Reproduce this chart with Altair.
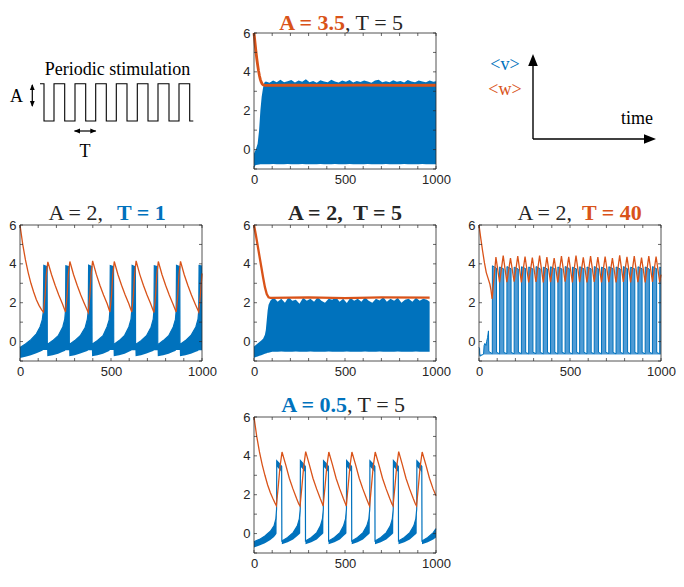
import altair as alt
import pandas as pd

BLUE = "#0072BD"
ORANGE = "#D95319"
LIGHT_BLUE = "#4F9BD5"
INK = "#262626"
SERIF = "Liberation Serif"
SANS = "Liberation Sans"

W, H = 182, 136
COL_GAP = 43
SCHEM_W = 191
LEG_W = 182
TICK = 3

X_TICKS = [0, 100, 200, 300, 400, 500, 600, 700, 800, 900, 1000]
Y_TICKS = [-1, 0, 1, 2, 3, 4, 5, 6]
X_LABELS = [0, 500, 1000]
Y_LABELS = [0, 2, 4, 6]

# ---------------- A = 3.5, T = 5 (blue envelope + orange) ----------------
TOP_T = [0, 5, 10, 20, 28, 35, 42, 50, 57] + list(range(65, 1000, 20)) + [1000]
TOP_LO = [-0.95, -0.85, -0.8, -0.78, -0.77, -0.76, -0.76, -0.75, -0.75,
          -0.75, -0.76, -0.74, -0.75, -0.76, -0.75, -0.74, -0.76, -0.75, -0.75,
          -0.74, -0.76, -0.75, -0.75, -0.76, -0.74, -0.75, -0.76, -0.75, -0.74,
          -0.75, -0.76, -0.75, -0.74, -0.75, -0.76, -0.75, -0.75, -0.74, -0.76,
          -0.75, -0.75, -0.76, -0.74, -0.75, -0.75, -0.76, -0.75, -0.74, -0.75,
          -0.76, -0.75, -0.75, -0.74, -0.76, -0.75, -0.75, -0.75]
TOP_HI = [-0.2, -0.1, 0.0, 0.3, 1.0, 2.0, 2.7, 3.2, 3.45,
          3.50, 3.44, 3.56, 3.47, 3.60, 3.46, 3.52, 3.58, 3.45, 3.55,
          3.49, 3.62, 3.47, 3.53, 3.44, 3.57, 3.50, 3.46, 3.59, 3.51,
          3.45, 3.55, 3.49, 3.58, 3.45, 3.53, 3.48, 3.56, 3.50, 3.44,
          3.55, 3.60, 3.47, 3.52, 3.46, 3.57, 3.49, 3.53, 3.45, 3.58,
          3.50, 3.47, 3.55, 3.51, 3.46, 3.56, 3.49, 3.52]
TOP_WT = [0, 5, 10, 15, 20, 25, 30, 35, 40, 45, 50, 60, 200, 400, 600, 800, 1000]
TOP_W = [6.0, 5.55, 5.1, 4.7, 4.35, 4.05, 3.8, 3.6, 3.47, 3.38, 3.33, 3.3, 3.31, 3.3, 3.32, 3.3, 3.31]

# ---------------- A = 2, T = 5 ----------------
CEN_T = [0, 10, 20, 30, 40, 50, 60, 65, 70, 75, 80, 90, 100] + list(range(110, 951, 20)) + [965]
CEN_LO = [-0.85, -0.8, -0.77, -0.73, -0.7, -0.67, -0.63, -0.61, -0.6, -0.58, -0.57, -0.55, -0.53,
          -0.52, -0.53, -0.51, -0.52, -0.53, -0.52, -0.51, -0.52, -0.53, -0.52,
          -0.51, -0.52, -0.52, -0.53, -0.52, -0.51, -0.52, -0.53, -0.52, -0.52,
          -0.51, -0.52, -0.53, -0.52, -0.52, -0.51, -0.52, -0.53, -0.52, -0.51,
          -0.52, -0.52, -0.53, -0.52, -0.51, -0.52, -0.52, -0.53, -0.52, -0.51,
          -0.52, -0.53, -0.52, -0.52]
CEN_HI = [-0.25, -0.18, -0.1, -0.02, 0.05, 0.15, 0.35, 0.6, 1.1, 1.6, 1.9, 2.1, 2.2,
          2.25, 2.05, 2.20, 2.00, 2.30, 2.10, 2.15, 1.95, 2.25, 2.10,
          2.20, 2.05, 2.30, 2.10, 2.00, 2.20, 2.15, 2.30, 2.05, 2.20,
          1.98, 2.25, 2.10, 2.20, 2.05, 2.28, 2.10, 2.00, 2.20, 2.12,
          2.30, 2.05, 2.20, 2.10, 2.25, 2.00, 2.15, 2.20, 2.05, 2.25,
          2.10, 2.20, 2.15, 2.05]
CEN_WT = [0, 10, 20, 30, 40, 50, 60, 70, 80, 90, 300, 500, 700, 965]
CEN_W = [6.0, 5.5, 4.95, 4.4, 3.85, 3.3, 2.8, 2.45, 2.28, 2.25, 2.27, 2.24, 2.27, 2.26]

# ---------------- A = 2, T = 1 ----------------
L_T = [0, 30, 60, 90, 110, 122, 128,
       131, 149, 150, 180, 210, 235, 246, 250,
       252, 270, 271, 301, 331, 358, 370, 375,
       377, 395, 396, 426, 456, 478, 490, 494,
       496, 514, 515, 545, 575, 598, 610, 614,
       616, 634, 635, 665, 695, 720, 732, 736,
       738, 756, 757, 787, 817, 842, 854, 858,
       860, 878, 879, 909, 939, 966, 978, 982,
       984, 1000]
L_LO = [-0.85, -0.78, -0.7, -0.6, -0.52, -0.47, -0.44,
        -0.44, -0.44, -0.75, -0.7, -0.63, -0.53, -0.48, -0.45,
        -0.45, -0.45, -0.76, -0.7, -0.62, -0.53, -0.48, -0.45,
        -0.45, -0.45, -0.75, -0.7, -0.63, -0.54, -0.48, -0.44,
        -0.44, -0.44, -0.76, -0.71, -0.63, -0.53, -0.47, -0.45,
        -0.45, -0.45, -0.75, -0.7, -0.62, -0.53, -0.48, -0.45,
        -0.45, -0.45, -0.75, -0.7, -0.63, -0.53, -0.48, -0.44,
        -0.44, -0.44, -0.76, -0.7, -0.63, -0.53, -0.48, -0.45,
        -0.45, -0.45]
L_HI = [-0.3, -0.12, 0.1, 0.4, 0.75, 1.1, 1.55,
        3.92, 3.85, -0.15, 0.05, 0.3, 0.75, 1.15, 1.6,
        3.9, 3.85, -0.15, 0.05, 0.3, 0.72, 1.15, 1.58,
        3.93, 3.86, -0.14, 0.06, 0.3, 0.75, 1.12, 1.6,
        3.91, 3.85, -0.15, 0.05, 0.32, 0.75, 1.15, 1.62,
        3.92, 3.84, -0.15, 0.04, 0.3, 0.74, 1.15, 1.6,
        3.9, 3.85, -0.16, 0.05, 0.3, 0.75, 1.14, 1.58,
        3.92, 3.85, -0.15, 0.05, 0.31, 0.75, 1.15, 1.6,
        3.92, 3.88]
LW_T = [0, 15, 30, 45, 60, 75, 90, 105, 120, 129,
        138, 144, 153, 173, 193, 213, 233, 250,
        259, 265, 274, 294, 314, 334, 354, 375,
        384, 390, 399, 419, 439, 459, 479, 494,
        503, 509, 518, 538, 558, 578, 598, 614,
        623, 629, 638, 658, 678, 698, 718, 736,
        745, 751, 760, 780, 800, 820, 840, 858,
        867, 873, 882, 902, 922, 942, 962, 982,
        991, 1000]
LW_W = [6.0, 5.0, 4.2, 3.55, 3.0, 2.55, 2.15, 1.85, 1.62, 1.52,
        2.4, 3.4, 4.1, 3.45, 2.9, 2.4, 1.95, 1.52,
        2.4, 3.4, 4.12, 3.45, 2.9, 2.4, 1.95, 1.5,
        2.4, 3.4, 4.15, 3.47, 2.9, 2.4, 1.95, 1.52,
        2.4, 3.4, 4.12, 3.45, 2.9, 2.4, 1.95, 1.52,
        2.4, 3.4, 4.15, 3.46, 2.9, 2.4, 1.95, 1.5,
        2.4, 3.4, 4.12, 3.45, 2.9, 2.4, 1.95, 1.52,
        2.4, 3.4, 4.13, 3.45, 2.9, 2.4, 1.95, 1.52,
        2.4, 3.5]

# ---------------- A = 2, T = 40 ----------------
R_T = [0, 3, 5, 15, 25, 28, 32, 38, 42, 47, 52, 54, 60, 73,
       73.5, 96, 96.5, 113, 113.5, 136, 136.5, 153, 153.5, 176, 176.5, 193,
       193.5, 216, 216.5, 233, 233.5, 256, 256.5, 273, 273.5, 296, 296.5, 313,
       313.5, 336, 336.5, 353, 353.5, 376, 376.5, 393, 393.5, 416, 416.5, 433,
       433.5, 456, 456.5, 473, 473.5, 496, 496.5, 513, 513.5, 536, 536.5, 553,
       553.5, 576, 576.5, 593, 593.5, 616, 616.5, 633, 633.5, 656, 656.5, 673,
       673.5, 696, 696.5, 713, 713.5, 736, 736.5, 753, 753.5, 776, 776.5, 793,
       793.5, 816, 816.5, 833, 833.5, 856, 856.5, 873, 873.5, 896, 896.5, 913,
       913.5, 936, 936.5, 953, 953.5, 976, 976.5, 993, 993.5, 1000]
R_V = [-0.3, -0.35, -0.75, -0.7, -0.65, -0.2, -0.1, -0.2, 0.0, 0.2, 0.55, -0.5, -0.55, -0.62,
       3.9, 3.78, -0.55, -0.63, 3.84, 3.74, -0.56, -0.62, 3.86, 3.75, -0.55, -0.63,
       3.83, 3.73, -0.55, -0.62, 3.85, 3.76, -0.56, -0.63, 3.84, 3.74, -0.55, -0.62,
       3.86, 3.75, -0.55, -0.63, 3.83, 3.74, -0.56, -0.62, 3.85, 3.75, -0.55, -0.63,
       3.84, 3.73, -0.55, -0.62, 3.86, 3.76, -0.56, -0.63, 3.83, 3.74, -0.55, -0.62,
       3.85, 3.75, -0.55, -0.63, 3.84, 3.74, -0.56, -0.62, 3.86, 3.75, -0.55, -0.63,
       3.83, 3.73, -0.55, -0.62, 3.85, 3.76, -0.56, -0.63, 3.84, 3.74, -0.55, -0.62,
       3.86, 3.75, -0.55, -0.63, 3.83, 3.74, -0.56, -0.62, 3.85, 3.75, -0.55, -0.63,
       3.84, 3.73, -0.55, -0.62, 3.86, 3.75, -0.56, -0.63, 3.84, 3.8]
RW_T = [0, 10, 20, 30, 40, 50, 60, 66, 72,
        93, 113, 133, 153, 173, 193, 213, 233, 253, 273, 293, 313, 333, 353,
        373, 393, 413, 433, 453, 473, 493, 513, 533, 553, 573, 593, 613, 633,
        653, 673, 693, 713, 733, 753, 773, 793, 813, 833, 853, 873, 893, 913,
        933, 953, 973, 993, 1000]
RW_W = [6.0, 5.3, 4.65, 4.05, 3.55, 3.25, 2.95, 2.65, 2.2,
        4.35, 3.05, 4.42, 3.06, 4.30, 3.08, 4.40, 3.05, 4.38, 3.04, 4.32, 3.07, 4.42, 3.05,
        4.35, 3.06, 4.30, 3.05, 4.40, 3.08, 4.36, 3.04, 4.42, 3.06, 4.33, 3.05, 4.40, 3.07,
        4.35, 3.04, 4.38, 3.06, 4.30, 3.05, 4.44, 3.07, 4.36, 3.05, 4.40, 3.06, 4.32, 3.05,
        4.40, 3.07, 4.38, 3.05, 3.45]

# ---------------- A = 0.5, T = 5 ----------------
B_T = [0, 30, 60, 90, 110, 120, 124,
       125, 140, 152, 153, 185, 215, 238, 249, 254,
       255, 270, 282, 283, 315, 345, 365, 376, 381,
       382, 397, 409, 410, 442, 472, 492, 503, 508,
       509, 524, 536, 537, 569, 599, 620, 631, 636,
       637, 652, 664, 665, 697, 727, 749, 760, 765,
       766, 781, 793, 794, 826, 856, 878, 889, 894,
       895, 910, 922, 923, 955, 985, 1000]
B_LO = [-0.72, -0.62, -0.5, -0.33, -0.18, -0.06, 0.0,
        3.45, 3.3, 3.15, -0.55, -0.45, -0.3, -0.12, -0.03, 0.02,
        3.45, 3.3, 3.15, -0.55, -0.45, -0.3, -0.12, -0.03, 0.02,
        3.45, 3.3, 3.15, -0.55, -0.45, -0.3, -0.12, -0.03, 0.02,
        3.45, 3.3, 3.15, -0.55, -0.45, -0.3, -0.12, -0.03, 0.02,
        3.45, 3.3, 3.15, -0.55, -0.45, -0.3, -0.12, -0.03, 0.02,
        3.45, 3.3, 3.15, -0.55, -0.45, -0.3, -0.12, -0.03, 0.02,
        3.45, 3.3, 3.15, -0.55, -0.45, -0.3, -0.2]
B_HI = [-0.42, -0.3, -0.12, 0.12, 0.4, 0.75, 1.25,
        3.75, 3.6, 3.45, -0.38, -0.2, 0.05, 0.4, 0.75, 1.25,
        3.76, 3.6, 3.45, -0.38, -0.2, 0.05, 0.4, 0.75, 1.25,
        3.75, 3.6, 3.45, -0.38, -0.2, 0.05, 0.4, 0.75, 1.25,
        3.76, 3.6, 3.45, -0.38, -0.2, 0.05, 0.4, 0.75, 1.25,
        3.75, 3.6, 3.45, -0.38, -0.2, 0.05, 0.4, 0.75, 1.25,
        3.76, 3.6, 3.45, -0.38, -0.2, 0.05, 0.4, 0.75, 1.25,
        3.75, 3.6, 3.45, -0.38, -0.2, 0.05, 0.25]
BW_T = [0, 15, 30, 45, 60, 75, 90, 105, 115, 123,
        133, 143, 154, 174, 194, 214, 234, 246, 253,
        263, 273, 284, 304, 324, 344, 364, 376, 380,
        390, 400, 411, 431, 451, 471, 491, 503, 507,
        517, 527, 538, 558, 578, 598, 618, 630, 635,
        645, 655, 666, 686, 706, 726, 746, 758, 764,
        774, 784, 795, 815, 835, 855, 875, 887, 893,
        903, 913, 924, 944, 964, 984, 1000]
BW_W = [6.0, 5.0, 4.2, 3.55, 3.0, 2.5, 2.1, 1.78, 1.58, 1.43,
        2.4, 3.45, 4.2, 3.55, 2.85, 2.3, 1.8, 1.52, 1.42,
        2.4, 3.45, 4.22, 3.55, 2.85, 2.3, 1.8, 1.52, 1.42,
        2.4, 3.45, 4.2, 3.55, 2.85, 2.3, 1.8, 1.52, 1.42,
        2.4, 3.45, 4.2, 3.55, 2.85, 2.3, 1.8, 1.52, 1.42,
        2.4, 3.45, 4.2, 3.55, 2.85, 2.3, 1.8, 1.52, 1.42,
        2.4, 3.45, 4.22, 3.55, 2.85, 2.3, 1.8, 1.52, 1.42,
        2.4, 3.45, 4.2, 3.55, 2.85, 2.3, 1.95]

# ---------------- schematic (stimulus sketch and axis legend) ----------------
WAVE_X = [20, 24, 34, 44.7, 55, 65.7, 75.7, 86.3, 96.3, 107, 117.3, 128, 138, 149, 159, 169.7, 173.3]
WAVE_HIGH, WAVE_LOW = 50.7, 88
SCHEM_TEXT = ["Periodic stimulation", "A", "T"]
SCHEM_TX = [97.5, -3.5, 65]
SCHEM_TY = [41.5, 68.5, 124]
LEG_TEXT = ["<v>", "<w>"]
LEG_COLORS = [BLUE, ORANGE]


def frame(cols):
    d = pd.DataFrame(cols)
    d["i"] = range(len(d))
    return d


XS = alt.Scale(domain=[0, 1000], nice=False, zero=False)
YS = alt.Scale(domain=[-1, 6], nice=False, zero=False)
AX_X = alt.Axis(values=X_LABELS, title=None, grid=False, ticks=False, domain=False,
                labelFont=SANS, labelFontSize=13, labelColor=INK, labelPadding=4,
                labelFlush=False, labelOverlap=False, format="d")
AX_Y = alt.Axis(values=Y_LABELS, title=None, grid=False, ticks=False, domain=False,
                labelFont=SANS, labelFontSize=13, labelColor=INK, labelPadding=4,
                labelOverlap=False, format="d")
ONE = pd.DataFrame({"k": [0]})


def X(f):
    return alt.X(f, scale=XS, axis=AX_X)


def Y(f):
    return alt.Y(f, scale=YS, axis=AX_Y)


def ticks_and_box():
    tx = pd.DataFrame({"tx": X_TICKS})
    ty = pd.DataFrame({"ty": Y_TICKS})
    rule = dict(color=INK, strokeWidth=0.7)
    xb = alt.Chart(tx).mark_rule(**rule).encode(x=X("tx:Q"), y=alt.value(H), y2=alt.value(H - TICK))
    xt = alt.Chart(tx).mark_rule(**rule).encode(x=X("tx:Q"), y=alt.value(0), y2=alt.value(TICK))
    yl = alt.Chart(ty).mark_rule(**rule).encode(y=Y("ty:Q"), x=alt.value(0), x2=alt.value(TICK))
    yr = alt.Chart(ty).mark_rule(**rule).encode(y=Y("ty:Q"), x=alt.value(W - TICK), x2=alt.value(W))
    box = alt.Chart(ONE).mark_rect(fillOpacity=0, stroke=INK, strokeWidth=0.8).encode(
        x=alt.value(0), x2=alt.value(W), y=alt.value(0), y2=alt.value(H))
    return [xb, xt, yl, yr, box]


def title_part(s, x, align, color=INK, bold=False, yb=-5):
    return alt.Chart(ONE).mark_text(
        text=s, font=SERIF, fontSize=22, fontWeight="bold" if bold else "normal",
        color=color, align=align, baseline="alphabetic").encode(x=alt.value(x), y=alt.value(yb))


def band(df, with_edge=False):
    layers = [alt.Chart(df).mark_area(color=BLUE, opacity=1).encode(
        x=X("t:Q"), y=Y("hi:Q"), y2="lo:Q")]
    if with_edge:
        layers.append(alt.Chart(df).mark_line(color=BLUE, strokeWidth=1.2).encode(
            x=X("t:Q"), y=Y("hi:Q"), order=alt.Order("i:Q")))
    return layers


def wline(df, width=1.3):
    return alt.Chart(df).mark_line(color=ORANGE, strokeWidth=width).encode(
        x=X("t:Q"), y=Y("w:Q"), order=alt.Order("i:Q"))


def panel(layers, titles):
    return alt.layer(*layers, *ticks_and_box(), *titles).properties(width=W, height=H)


top = panel(band(frame({"t": TOP_T, "lo": TOP_LO, "hi": TOP_HI})) +
            [wline(frame({"t": TOP_WT, "w": TOP_W}), 2.8)],
            [title_part("A = 3.5", W / 2, "right", ORANGE, True, -3),
             title_part(", T = 5", W / 2, "left", INK, False, -3)])

center = panel(band(frame({"t": CEN_T, "lo": CEN_LO, "hi": CEN_HI})) +
               [wline(frame({"t": CEN_WT, "w": CEN_W}), 2.3)],
               [title_part("A = 2,\u00a0 T = 5", W / 2, "center", INK, True)])

left = panel(band(frame({"t": L_T, "lo": L_LO, "hi": L_HI}), True) +
             [wline(frame({"t": LW_T, "w": LW_W}))],
             [title_part("A = 2,", W / 2 - 8, "right"),
              title_part("T = 1", W / 2 + 6, "left", BLUE, True)])

r_df = frame({"t": R_T, "v": R_V})
right_layers = [
    alt.Chart(r_df).mark_area(color=LIGHT_BLUE, opacity=1).encode(
        x=X("t:Q"), y=Y("v:Q"), y2=alt.datum(-0.66)),
    alt.Chart(r_df).mark_line(color=BLUE, strokeWidth=1.0).encode(
        x=X("t:Q"), y=Y("v:Q"), order=alt.Order("i:Q")),
    wline(frame({"t": RW_T, "w": RW_W})),
]
right = panel(right_layers,
              [title_part("A = 2,", W / 2 + 2, "right"),
               title_part("T = 40", W / 2 + 12, "left", ORANGE, True)])

bottom = panel(band(frame({"t": B_T, "lo": B_LO, "hi": B_HI}), True) +
               [wline(frame({"t": BW_T, "w": BW_W}))],
               [title_part("A = 0.5", W / 2 + 2, "right", BLUE, True),
                title_part(", T = 5", W / 2 + 2, "left")])

# ---------------- schematic chart ----------------
SX = alt.Scale(domain=[0, SCHEM_W], nice=False, zero=False)
SY = alt.Scale(domain=[H, 0], nice=False, zero=False)
wave_pts = [(WAVE_X[0], WAVE_HIGH)]
level = WAVE_HIGH
for xv in WAVE_X[1:-1]:
    wave_pts.append((xv, level))
    level = WAVE_LOW if level == WAVE_HIGH else WAVE_HIGH
    wave_pts.append((xv, level))
wave_pts.append((WAVE_X[-1], level))
wave_df = pd.DataFrame(wave_pts, columns=["x", "y"])
wave_df["i"] = range(len(wave_df))


def sx(f):
    return alt.X(f, scale=SX, axis=None)


def sy(f):
    return alt.Y(f, scale=SY, axis=None)


UP = "M0,-1L0.8,1L-0.8,1Z"
DOWN = "M0,1L0.8,-1L-0.8,-1Z"
LEFT = "M-1,0L1,-0.8L1,0.8Z"
RIGHT = "M1,0L-1,-0.8L-1,0.8Z"

s_arrows = pd.DataFrame({"x": [12.3, 54.5], "y": [52, 98], "x2": [12.3, 75.8], "y2": [73, 98]})
s_heads = pd.DataFrame({"x": [12.3, 12.3, 57, 73.3], "y": [54, 71, 98, 98],
                        "shp": [UP, DOWN, LEFT, RIGHT]})
s_text = pd.DataFrame({"x": SCHEM_TX, "y": SCHEM_TY, "s": SCHEM_TEXT})

schem = alt.layer(
    alt.Chart(wave_df).mark_line(color="black", strokeWidth=1.1).encode(
        x=sx("x:Q"), y=sy("y:Q"), order=alt.Order("i:Q")),
    alt.Chart(s_arrows).mark_rule(color="black", strokeWidth=1.2).encode(
        x=sx("x:Q"), y=sy("y:Q"), x2="x2:Q", y2="y2:Q"),
    alt.Chart(s_heads).mark_point(filled=True, opacity=1, color="black", size=36).encode(
        x=sx("x:Q"), y=sy("y:Q"), shape=alt.Shape("shp:N", scale=None)),
    alt.Chart(s_text).mark_text(font=SERIF, fontSize=18, color="black", align="center",
                                baseline="alphabetic").encode(
        x=sx("x:Q"), y=sy("y:Q"), text="s:N"),
).properties(width=SCHEM_W, height=H)

# ---------------- axis legend chart ----------------
LX = alt.Scale(domain=[0, LEG_W], nice=False, zero=False)
l_arrows = pd.DataFrame({"x": [54, 54], "y": [106, 106], "x2": [54, 167], "y2": [30, 106]})
l_heads = pd.DataFrame({"x": [54, 171], "y": [27, 106], "shp": [UP, RIGHT]})
l_text = pd.DataFrame({"x": [26, 26], "y": [37, 62], "s": LEG_TEXT, "c": LEG_COLORS})
l_time = pd.DataFrame({"x": [174], "y": [91], "s": ["time"]})

legend = alt.layer(
    alt.Chart(l_arrows).mark_rule(color="black", strokeWidth=1.4).encode(
        x=alt.X("x:Q", scale=LX, axis=None), y=sy("y:Q"), x2="x2:Q", y2="y2:Q"),
    alt.Chart(l_heads).mark_point(filled=True, opacity=1, color="black", size=144).encode(
        x=alt.X("x:Q", scale=LX, axis=None), y=sy("y:Q"), shape=alt.Shape("shp:N", scale=None)),
    alt.Chart(l_text).mark_text(font=SERIF, fontSize=18, align="center", baseline="alphabetic").encode(
        x=alt.X("x:Q", scale=LX, axis=None), y=sy("y:Q"), text="s:N",
        color=alt.Color("c:N", scale=None)),
    alt.Chart(l_time).mark_text(font=SERIF, fontSize=18, align="right", baseline="alphabetic",
                                color="black").encode(
        x=alt.X("x:Q", scale=LX, axis=None), y=sy("y:Q"), text="s:N"),
).properties(width=LEG_W, height=H)

spacer = alt.Chart(ONE).mark_point(opacity=0).encode(
    x=alt.X("k:Q", axis=None), y=alt.Y("k:Q", axis=None)).properties(width=SCHEM_W, height=H)

chart = alt.concat(
    schem, top, legend,
    left, center, right,
    spacer, bottom,
    columns=3, spacing={"row": 56, "column": COL_GAP}, bounds="flush",
).properties(padding={"left": 0, "top": 4, "right": 0, "bottom": 0}).configure_view(strokeWidth=0)

chart.save("out.html", embed_options={"renderer": "svg", "actions": False})
